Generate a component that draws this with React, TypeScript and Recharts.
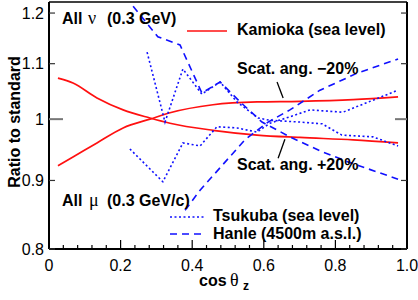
import React from "react";
import { LineChart, Line, XAxis, YAxis, ReferenceLine } from "recharts";

// Kamioka (sea level), smooth curves
const kamCos = [0.025, 0.067, 0.134, 0.207, 0.282, 0.338, 0.458, 0.581, 0.701, 0.85, 0.975];
const kamMinus20 = [0.923, 0.937, 0.96, 0.985, 1.0, 1.011, 1.025, 1.03, 1.031, 1.034, 1.039];
const kamPlus20 = [1.073, 1.064, 1.037, 1.016, 1.002, 0.993, 0.981, 0.973, 0.969, 0.965, 0.96];

// Tsukuba (sea level), dotted
const tsuMinusCos = [0.226, 0.318, 0.374, 0.422, 0.469, 0.525, 0.581, 0.617, 0.673, 0.729, 0.821, 0.975];
const tsuMinus20 = [0.95, 0.898, 0.96, 0.955, 0.987, 0.985, 0.978, 0.993, 1.004, 1.016, 1.012, 1.051];
const tsuPlusCos = [0.274, 0.324, 0.374, 0.427, 0.478, 0.525, 0.584, 0.617, 0.701, 0.763, 0.818, 0.905, 0.975];
const tsuPlus20 = [1.122, 0.995, 1.09, 1.044, 1.066, 1.03, 1.002, 0.998, 0.995, 0.992, 0.973, 0.97, 0.955];

// Hanle (4500m a.s.l.), dashed
const hanMinusCos = [0.38, 0.422, 0.478, 0.547, 0.612, 0.673, 0.757, 0.86, 0.975];
const hanMinus20 = [0.855, 0.885, 0.92, 0.965, 0.995, 1.016, 1.051, 1.082, 1.109];
const hanPlusCos = [0.235, 0.304, 0.366, 0.427, 0.478, 0.534, 0.595, 0.673, 0.757, 0.841, 0.975];
const hanPlus20 = [1.214, 1.152, 1.136, 1.046, 1.066, 1.03, 0.995, 0.97, 0.947, 0.928, 0.902];

const xTicks = [
  0, 0.04, 0.08, 0.12, 0.16, 0.2, 0.24, 0.28, 0.32, 0.36, 0.4, 0.44, 0.48, 0.52,
  0.56, 0.6, 0.64, 0.68, 0.72, 0.76, 0.8, 0.84, 0.88, 0.92, 0.96, 1,
];
const yTicks = [0.8, 0.9, 1, 1.1, 1.2];

const pts = (xs: number[], ys: number[]) => xs.map((x, i) => ({ x, y: ys[i] }));

const SANS = "'Liberation Sans', Arial, Helvetica, sans-serif";
const SYM = "'Liberation Serif', 'DejaVu Serif', serif";
const RED = "#ff1010";
const BLUE = "#1010ff";
const M = 6; // tick margin used to recover the axis position

const isMajor = (v: number) => Math.abs(v * 5 - Math.round(v * 5)) < 1e-6;
const xLabel = (v: number) => (v === 0 ? "0" : v.toFixed(1));
const yLabel = (v: number) => (v === 1 ? "1" : v.toFixed(1));

/* eslint-disable @typescript-eslint/no-explicit-any */
function BottomTick({ x, y, payload }: any) {
  const v = payload.value;
  const major = isMajor(v);
  const ay = y - M;
  return (
    <g>
      <line x1={x} x2={x} y1={ay} y2={ay - (major ? 9 : 4)} stroke="#000" strokeWidth={1.2} />
      {major && (
        <text x={x} y={ay + 22} textAnchor="middle" fontFamily={SANS} fontSize={16} fill="#000">
          {xLabel(v)}
        </text>
      )}
    </g>
  );
}

function TopTick({ x, y, payload }: any) {
  const major = isMajor(payload.value);
  const ay = y + M;
  return <line x1={x} x2={x} y1={ay} y2={ay + (major ? 9 : 4)} stroke="#000" strokeWidth={1.2} />;
}

function LeftTick({ x, y, payload }: any) {
  const v = payload.value;
  const ax = x + M;
  const one = v === 1;
  return (
    <g>
      <line x1={ax} x2={ax + (one ? 14 : 6)} y1={y} y2={y} stroke={one ? "#777" : "#333"} strokeWidth={one ? 2 : 1.2} />
      <text x={ax - 5} y={y + 5.5} textAnchor="end" fontFamily={SANS} fontSize={16} fill="#000">
        {yLabel(v)}
      </text>
    </g>
  );
}

function RightTick({ x, y, payload }: any) {
  const one = payload.value === 1;
  const ax = x - M;
  return <line x1={ax} x2={ax - (one ? 12 : 6)} y1={y} y2={y} stroke={one ? "#777" : "#333"} strokeWidth={one ? 2 : 1.2} />;
}
/* eslint-enable @typescript-eslint/no-explicit-any */

export default function App() {
  const txt = { fontFamily: SANS, fontSize: 16, fontWeight: 700, fill: "#000" } as const;
  const greek = { fontFamily: SYM, fontWeight: 400, fontSize: 18 } as const;
  return (
    <div style={{ position: "absolute", left: 0, top: 0, width: 418, height: 300, background: "#fff" }}>
      <LineChart width={418} height={300} margin={{ top: 0, right: 0, bottom: 0, left: 0 }}>
        <XAxis
          xAxisId="b"
          type="number"
          dataKey="x"
          domain={[0, 1]}
          ticks={xTicks}
          interval={0}
          height={51}
          tickSize={0}
          tickMargin={M}
          tickLine={false}
          tick={<BottomTick />}
          axisLine={{ stroke: "#000", strokeWidth: 2 }}
          allowDataOverflow
        />
        <XAxis
          xAxisId="t"
          orientation="top"
          type="number"
          dataKey="x"
          domain={[0, 1]}
          ticks={xTicks}
          interval={0}
          height={2}
          tickSize={0}
          tickMargin={M}
          tickLine={false}
          tick={<TopTick />}
          axisLine={{ stroke: "#000", strokeWidth: 1.5 }}
        />
        <YAxis
          yAxisId="l"
          type="number"
          scale="log"
          domain={[0.8, 1.223]}
          ticks={yTicks}
          interval={0}
          width={49}
          tickSize={0}
          tickMargin={M}
          tickLine={false}
          tick={<LeftTick />}
          axisLine={{ stroke: "#000", strokeWidth: 2 }}
          allowDataOverflow
        />
        <YAxis
          yAxisId="r"
          orientation="right"
          type="number"
          scale="log"
          domain={[0.8, 1.223]}
          ticks={yTicks}
          interval={0}
          width={11}
          tickSize={0}
          tickMargin={M}
          tickLine={false}
          tick={<RightTick />}
          axisLine={{ stroke: "#000", strokeWidth: 2 }}
          allowDataOverflow
        />

        <Line xAxisId="b" yAxisId="l" data={pts(kamCos, kamMinus20)} dataKey="y" type="monotone" stroke={RED} strokeWidth={1.7} dot={false} isAnimationActive={false} />
        <Line xAxisId="b" yAxisId="l" data={pts(kamCos, kamPlus20)} dataKey="y" type="monotone" stroke={RED} strokeWidth={1.7} dot={false} isAnimationActive={false} />
        <Line xAxisId="b" yAxisId="l" data={pts(tsuMinusCos, tsuMinus20)} dataKey="y" type="linear" stroke={BLUE} strokeWidth={1.6} strokeDasharray="2 2.5" dot={false} isAnimationActive={false} />
        <Line xAxisId="b" yAxisId="l" data={pts(tsuPlusCos, tsuPlus20)} dataKey="y" type="linear" stroke={BLUE} strokeWidth={1.6} strokeDasharray="2 2.5" dot={false} isAnimationActive={false} />
        <Line xAxisId="b" yAxisId="l" data={pts(hanMinusCos, hanMinus20)} dataKey="y" type="linear" stroke={BLUE} strokeWidth={1.6} strokeDasharray="7 5" dot={false} isAnimationActive={false} />
        <Line xAxisId="b" yAxisId="l" data={pts(hanPlusCos, hanPlus20)} dataKey="y" type="linear" stroke={BLUE} strokeWidth={1.6} strokeDasharray="7 5" dot={false} isAnimationActive={false} />

        <ReferenceLine xAxisId="b" yAxisId="l" segment={[{ x: 0.637, y: 1.066 }, { x: 0.654, y: 1.037 }]} stroke="#000" strokeWidth={1.3} />
        <ReferenceLine xAxisId="b" yAxisId="l" segment={[{ x: 0.659, y: 0.966 }, { x: 0.64, y: 0.935 }]} stroke="#000" strokeWidth={1.3} />
      </LineChart>

      <svg width={418} height={300} style={{ position: "absolute", left: 0, top: 0, pointerEvents: "none" }}>
        <text y={24} {...txt}>
          <tspan x={62}>All</tspan>
          <tspan x={88} {...greek}>ν</tspan>
          <tspan x={107}>(0.3 GeV)</tspan>
        </text>
        <text y={206} {...txt}>
          <tspan x={62}>All</tspan>
          <tspan x={89} {...greek}>μ</tspan>
          <tspan x={107}>(0.3 GeV/c)</tspan>
        </text>

        <line x1={187} x2={227} y1={31} y2={31} stroke={RED} strokeWidth={1.7} />
        <text x={237} y={35} {...txt}>Kamioka (sea level)</text>

        <text x={237} y={74} {...txt}>Scat. ang. −20%</text>
        <text x={237} y={170} {...txt}>Scat. ang. +20%</text>

        <line x1={170} x2={206} y1={217} y2={217} stroke={BLUE} strokeWidth={1.6} strokeDasharray="2 2.5" />
        <text x={213} y={221} {...txt}>Tsukuba (sea level)</text>
        <line x1={170} x2={206} y1={234} y2={234} stroke={BLUE} strokeWidth={1.6} strokeDasharray="7 5" />
        <text x={213} y={239} {...txt}>Hanle (4500m a.s.l.)</text>

        <text x={20} y={122} transform="rotate(-90 20 122)" textAnchor="middle" {...txt}>
          Ratio to standard
        </text>

        <text y={286} {...txt}>
          <tspan x={199}>cos</tspan>
          <tspan x={230} {...greek}>θ</tspan>
          <tspan x={243} dy={4} fontSize={12}>z</tspan>
        </text>
      </svg>
    </div>
  );
}
